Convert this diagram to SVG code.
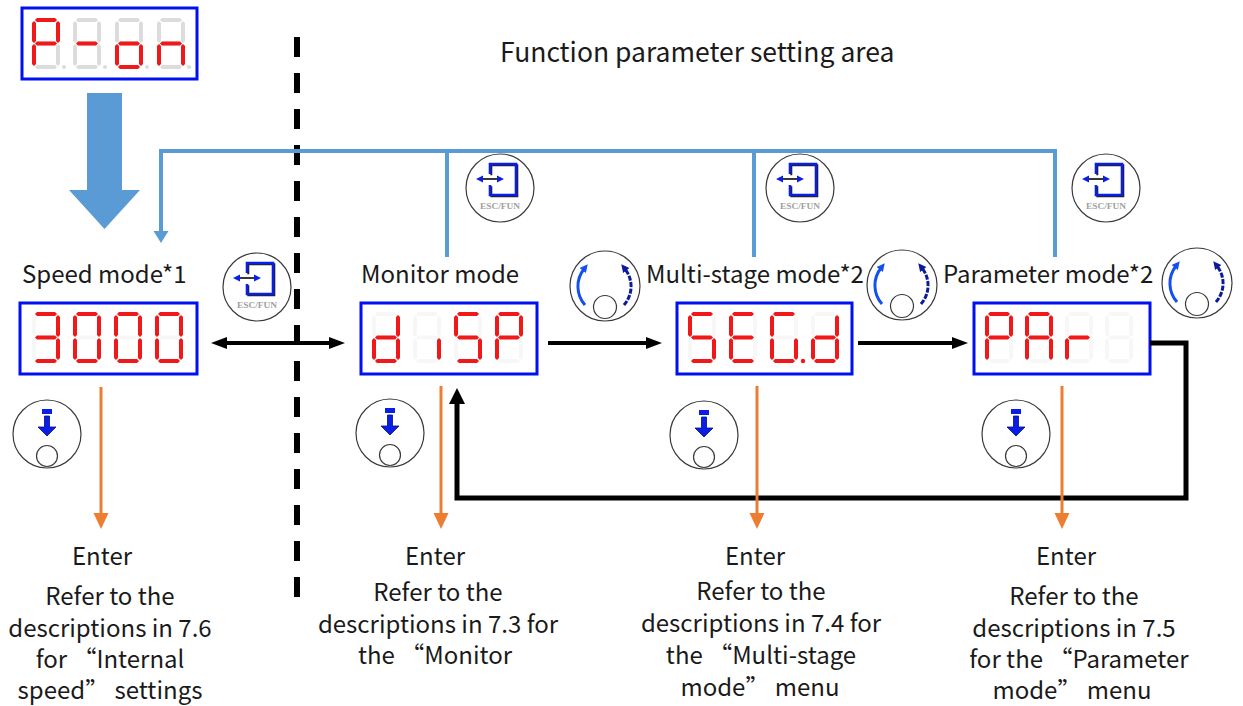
<svg xmlns="http://www.w3.org/2000/svg" xmlns:xlink="http://www.w3.org/1999/xlink" width="1243" height="706" viewBox="0 0 1243 706">
<style>
.on{fill:#f01818}
.off{fill:#f7f7f7}
.offp{fill:#dcdcdc}
.disp{fill:#fff;stroke:#0010f0;stroke-width:3}
.lbl{font-family:'Noto Sans CJK SC','Noto Sans',sans-serif;font-size:24px;fill:#1a1a1a}
.mid{text-anchor:middle}
.ring{fill:#fff;stroke:#3a3a3a;stroke-width:1.2}
</style>
<defs>
<polygon id="sa" points="3,2 5,0 23,0 25,2 23,4 5,4"/>
<polygon id="sb" points="26,3 28,5 28,23 26,25 24,23 24,5"/>
<polygon id="sc" points="26,26 28,28 28,46 26,48 24,46 24,28"/>
<polygon id="sd" points="3,49 5,47 23,47 25,49 23,51 5,51"/>
<polygon id="se" points="2,26 4,28 4,46 2,48 0,46 0,28"/>
<polygon id="sf" points="2,3 4,5 4,23 2,25 0,23 0,5"/>
<polygon id="sg" points="3,25.5 5,23.5 23,23.5 25,25.5 23,27.5 5,27.5"/>
<g id="d8"><use href="#sa"/><use href="#sb"/><use href="#sc"/><use href="#sd"/><use href="#se"/><use href="#sf"/><use href="#sg"/></g>
<marker id="ahB" markerUnits="userSpaceOnUse" markerWidth="18" markerHeight="14" refX="6" refY="7" orient="auto-start-reverse"><path d="M0,1 L16,7 L0,13 Z" fill="#000"/></marker>
<marker id="ahBL" markerUnits="userSpaceOnUse" markerWidth="18" markerHeight="18" refX="6" refY="9" orient="auto"><path d="M0,1 L16,9 L0,17 Z" fill="#000"/></marker>
<marker id="ahO" markerUnits="userSpaceOnUse" markerWidth="18" markerHeight="16" refX="6" refY="8" orient="auto"><path d="M0,0.5 L16,8 L0,15.5 Z" fill="#ed7d31"/></marker>
<marker id="ahL" markerUnits="userSpaceOnUse" markerWidth="14" markerHeight="16" refX="4" refY="8" orient="auto"><path d="M0,0.5 L12,8 L0,15.5 Z" fill="#5b9bd5"/></marker>
<marker id="ahK1" markerUnits="userSpaceOnUse" markerWidth="10" markerHeight="10" refX="2" refY="5" orient="auto"><path d="M0,1 L8,5 L0,9 Z" fill="#1450f0"/></marker>
<marker id="ahK2" markerUnits="userSpaceOnUse" markerWidth="10" markerHeight="10" refX="2" refY="5" orient="auto"><path d="M0,1 L8,5 L0,9 Z" fill="#0a1a9a"/></marker>
<g id="esc">
<circle class="ring" r="34"/>
<path d="M-10,-14 V-24 H16 V7 H-10 V-3" fill="none" stroke="#222" stroke-width="2" transform="translate(1.3,1.3)"/>
<path d="M-10,-14 V-24 H16 V7 H-10 V-3" fill="none" stroke="#0a1ee6" stroke-width="2.6"/>
<line x1="-19" y1="-9" x2="-1" y2="-9" stroke="#222" stroke-width="1.8"/>
<path d="M-24,-9 L-17,-12.5 L-17,-5.5Z M4,-9 L-3,-12.5 L-3,-5.5Z" fill="#0a1ee6"/>
<text y="21" text-anchor="middle" font-family="'Liberation Serif',serif" font-size="8.5" font-weight="bold" fill="#a0a0a0" textLength="40" lengthAdjust="spacingAndGlyphs">ESC/FUN</text>
</g>
<g id="knob">
<circle class="ring" r="35"/>
<path d="M-20,19 A28,28 0 0 1 -21,-17" fill="none" stroke="#1450f0" stroke-width="3" marker-end="url(#ahK1)"/>
<path d="M19,19 A28,28 0 0 0 20,-17" fill="none" stroke="#0a1a9a" stroke-width="3" stroke-dasharray="5 1.5" marker-end="url(#ahK2)"/>
<circle class="ring" cy="21" r="11.5"/>
</g>
<g id="enter">
<circle class="ring" r="34"/>
<rect x="-5" y="-25" width="10" height="5" fill="#0a1ee6"/>
<path d="M-2.5,-18 H2.5 V-7 H9 L0,2 L-9,-7 H-2.5 Z" fill="#0a1ee6" stroke="#001080" stroke-width="0.8"/>
<circle class="ring" cy="22" r="10.5"/>
</g>
</defs>
<rect width="1243" height="706" fill="#fff"/>

<text class="lbl" x="500" y="62" style="font-size:26.5px">Function parameter setting area</text>

<g id="node-pon">
<rect class="disp" x="22" y="8" width="175" height="71"/>
<g transform="translate(32,18)"><use href="#d8" class="offp"/><circle cx="32" cy="49" r="2" class="offp"/><use href="#sa" class="on"/><use href="#sb" class="on"/><use href="#sf" class="on"/><use href="#sg" class="on"/><use href="#se" class="on"/></g>
<g transform="translate(73,18)"><use href="#d8" class="offp"/><circle cx="32" cy="49" r="2" class="offp"/><use href="#sg" class="on"/></g>
<g transform="translate(115,18)"><use href="#d8" class="offp"/><circle cx="32" cy="49" r="2" class="offp"/><use href="#sg" class="on"/><use href="#sc" class="on"/><use href="#sd" class="on"/><use href="#se" class="on"/></g>
<g transform="translate(157,18)"><use href="#d8" class="offp"/><circle cx="32" cy="49" r="2" class="offp"/><use href="#sg" class="on"/><use href="#sc" class="on"/><use href="#se" class="on"/></g>
</g>

<g id="node-speed">
<text class="lbl" x="22" y="283">Speed mode*1</text>
<rect class="disp" x="20" y="303" width="177" height="71"/>
<g transform="translate(32,312)"><use href="#d8" class="off"/><use href="#sa" class="on"/><use href="#sb" class="on"/><use href="#sc" class="on"/><use href="#sd" class="on"/><use href="#sg" class="on"/></g>
<g transform="translate(73,312)"><use href="#d8" class="off"/><use href="#sa" class="on"/><use href="#sb" class="on"/><use href="#sc" class="on"/><use href="#sd" class="on"/><use href="#se" class="on"/><use href="#sf" class="on"/></g>
<g transform="translate(114,312)"><use href="#d8" class="off"/><use href="#sa" class="on"/><use href="#sb" class="on"/><use href="#sc" class="on"/><use href="#sd" class="on"/><use href="#se" class="on"/><use href="#sf" class="on"/></g>
<g transform="translate(155,312)"><use href="#d8" class="off"/><use href="#sa" class="on"/><use href="#sb" class="on"/><use href="#sc" class="on"/><use href="#sd" class="on"/><use href="#se" class="on"/><use href="#sf" class="on"/></g>
</g>

<g id="node-monitor">
<text class="lbl" x="361" y="283">Monitor mode</text>
<rect class="disp" x="361" y="303" width="176" height="71"/>
<g transform="translate(372,312)"><use href="#d8" class="off"/><use href="#sb" class="on"/><use href="#sc" class="on"/><use href="#sd" class="on"/><use href="#se" class="on"/><use href="#sg" class="on"/></g>
<g transform="translate(413,312)"><use href="#d8" class="off"/><use href="#sc" class="on"/></g>
<g transform="translate(454,312)"><use href="#d8" class="off"/><use href="#sa" class="on"/><use href="#sf" class="on"/><use href="#sg" class="on"/><use href="#sc" class="on"/><use href="#sd" class="on"/></g>
<g transform="translate(495,312)"><use href="#d8" class="off"/><use href="#sa" class="on"/><use href="#sb" class="on"/><use href="#sf" class="on"/><use href="#sg" class="on"/><use href="#se" class="on"/></g>
</g>

<g id="node-multistage">
<text class="lbl" x="646" y="283">Multi-stage mode*2</text>
<rect class="disp" x="677" y="303" width="175" height="71"/>
<g transform="translate(688,312)"><use href="#d8" class="off"/><use href="#sa" class="on"/><use href="#sf" class="on"/><use href="#sg" class="on"/><use href="#sc" class="on"/><use href="#sd" class="on"/></g>
<g transform="translate(729,312)"><use href="#d8" class="off"/><use href="#sa" class="on"/><use href="#sf" class="on"/><use href="#sg" class="on"/><use href="#se" class="on"/><use href="#sd" class="on"/></g>
<g transform="translate(770,312)"><use href="#d8" class="off"/><use href="#sa" class="on"/><use href="#sf" class="on"/><use href="#se" class="on"/><use href="#sd" class="on"/><use href="#sc" class="on"/><circle cx="33" cy="49" r="2.2" class="on"/></g>
<g transform="translate(811,312)"><use href="#d8" class="off"/><use href="#sb" class="on"/><use href="#sc" class="on"/><use href="#sd" class="on"/><use href="#se" class="on"/><use href="#sg" class="on"/></g>
</g>

<g id="node-parameter">
<text class="lbl" x="943" y="283">Parameter mode*2</text>
<rect class="disp" x="974" y="303" width="176" height="71"/>
<g transform="translate(985,312)"><use href="#d8" class="off"/><use href="#sa" class="on"/><use href="#sb" class="on"/><use href="#sf" class="on"/><use href="#sg" class="on"/><use href="#se" class="on"/></g>
<g transform="translate(1025,312)"><use href="#d8" class="off"/><use href="#sa" class="on"/><use href="#sb" class="on"/><use href="#sc" class="on"/><use href="#se" class="on"/><use href="#sf" class="on"/><use href="#sg" class="on"/></g>
<g transform="translate(1065,312)"><use href="#d8" class="off"/><use href="#se" class="on"/><use href="#sg" class="on"/></g>
<g transform="translate(1105,312)"><use href="#d8" class="off"/></g>
</g>

<g id="icons">
<use href="#esc" transform="translate(257,287)"/>
<use href="#esc" transform="translate(500,188)"/>
<use href="#esc" transform="translate(800,188)"/>
<use href="#esc" transform="translate(1106,188)"/>
<use href="#knob" transform="translate(605,286)"/>
<use href="#knob" transform="translate(902,285)"/>
<use href="#knob" transform="translate(1197,283)"/>
<use href="#enter" transform="translate(47,434)"/>
<use href="#enter" transform="translate(390,433)"/>
<use href="#enter" transform="translate(704,435)"/>
<use href="#enter" transform="translate(1016,434)"/>
</g>

<g id="connectors" fill="none">
<polygon points="87,93 122,93 122,190 140,190 104.5,229 69,190 87,190" fill="#5b9bd5"/>
<line x1="297" y1="37" x2="297" y2="600" stroke="#000" stroke-width="6" stroke-dasharray="20 16"/>
<path d="M1055,257 V151 H161 V235" stroke="#5b9bd5" stroke-width="4" marker-end="url(#ahL)"/>
<line x1="447" y1="151" x2="447" y2="257" stroke="#5b9bd5" stroke-width="4"/>
<line x1="754" y1="151" x2="754" y2="257" stroke="#5b9bd5" stroke-width="4"/>
<line x1="221" y1="343" x2="335" y2="343" stroke="#000" stroke-width="4" marker-start="url(#ahB)" marker-end="url(#ahB)"/>
<line x1="548" y1="343" x2="652" y2="343" stroke="#000" stroke-width="4" marker-end="url(#ahB)"/>
<line x1="858" y1="343" x2="958" y2="343" stroke="#000" stroke-width="4" marker-end="url(#ahB)"/>
<path d="M1150,343 H1186 V498 H457 V398" stroke="#000" stroke-width="5" marker-end="url(#ahBL)"/>
<line x1="101" y1="387" x2="101" y2="519" stroke="#ed7d31" stroke-width="3" marker-end="url(#ahO)"/>
<line x1="441" y1="386" x2="441" y2="519" stroke="#ed7d31" stroke-width="3" marker-end="url(#ahO)"/>
<line x1="757" y1="386" x2="757" y2="519" stroke="#ed7d31" stroke-width="3" marker-end="url(#ahO)"/>
<line x1="1062" y1="386" x2="1062" y2="519" stroke="#ed7d31" stroke-width="3" marker-end="url(#ahO)"/>
</g>

<g id="notes">
<text class="lbl mid" x="102" y="565">Enter</text>
<text class="lbl mid" x="110" y="605">Refer to the</text>
<text class="lbl mid" x="110" y="637">descriptions in 7.6</text>
<text class="lbl mid" x="110" y="668">for “Internal</text>
<text class="lbl mid" x="110" y="699">speed” settings</text>

<text class="lbl mid" x="435" y="565">Enter</text>
<text class="lbl mid" x="438" y="601">Refer to the</text>
<text class="lbl mid" x="438" y="633">descriptions in 7.3 for</text>
<text class="lbl mid" x="435" y="664">the “Monitor</text>

<text class="lbl mid" x="755" y="565">Enter</text>
<text class="lbl mid" x="761" y="600">Refer to the</text>
<text class="lbl mid" x="761" y="632">descriptions in 7.4 for</text>
<text class="lbl mid" x="761" y="664">the “Multi-stage</text>
<text class="lbl mid" x="760" y="696">mode” menu</text>

<text class="lbl mid" x="1066" y="565">Enter</text>
<text class="lbl mid" x="1074" y="605">Refer to the</text>
<text class="lbl mid" x="1074" y="637">descriptions in 7.5</text>
<text class="lbl mid" x="1079" y="668">for the “Parameter</text>
<text class="lbl mid" x="1072" y="699">mode” menu</text>
</g>
</svg>
